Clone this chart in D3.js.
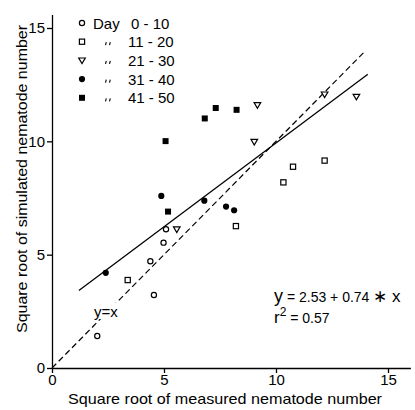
<!DOCTYPE html>
<html>
<head>
<meta charset="utf-8">
<script src="https://cdn.jsdelivr.net/npm/d3@7/dist/d3.min.js"></script>
<style>
  html, body { margin: 0; padding: 0; background: #fff; }
  svg { display: block; }
  text { font-family: "Liberation Sans", Arial, sans-serif; fill: #000; }
</style>
</head>
<body>
<svg id="chart" width="415" height="410"></svg>
<script>
// ---- data (square-root scale values) ----
const day0_10  = [[2.02,1.41],[4.55,3.22],[4.39,4.71],[4.98,5.53],[5.09,6.12]];
const day11_20 = [[3.38,3.88],[8.21,6.26],[10.33,8.19],[10.76,8.88],[12.17,9.15]];
const day21_30 = [[5.57,6.12],[9.03,9.98],[9.17,11.60],[12.17,12.07],[13.59,11.97]];
const day31_40 = [[2.40,4.20],[4.88,7.59],[6.80,7.38],[7.77,7.12],[8.13,6.96]];
const day41_50 = [[5.07,10.01],[5.18,6.90],[6.82,11.01],[7.31,11.47],[8.24,11.39]];
const legendLabels = ["0 - 10","11 - 20","21 - 30","31 - 40","41 - 50"];
const xTicks = [0,5,10,15];
const yTicks = [0,5,10,15];
const fitIntercept = 2.53, fitSlope = 0.74;
const fitRange = [1.2, 14.1];
const identityRange = [0, 14];

const svg = d3.select("#chart");
const x = d3.scaleLinear().domain([0,16]).range([52,410.4]);
const y = d3.scaleLinear().domain([0,15.6]).range([368,14.4]);

// axes
const xAxis = svg.append("g").attr("transform","translate(0,"+y(0)+")")
  .call(d3.axisBottom(x).tickValues(xTicks).tickSize(5).tickSizeOuter(0).tickPadding(1));
const yAxis = svg.append("g").attr("transform","translate("+x(0)+",0)")
  .call(d3.axisLeft(y).tickValues(yTicks).tickSize(5).tickSizeOuter(0).tickPadding(2));
[xAxis,yAxis].forEach(g=>{
  g.selectAll("path,line").attr("stroke","#000").attr("stroke-width",1.3);
  g.selectAll("text").style("font-size","15px").attr("fill","#000")
   .style("font-family","'Liberation Sans', Arial, sans-serif");
});

// axis titles
svg.append("text").attr("x",225).attr("y",404).attr("text-anchor","middle")
  .style("font-size","15px").attr("textLength",314).attr("lengthAdjust","spacingAndGlyphs")
  .text("Square root of measured nematode number");
svg.append("text").attr("transform","translate(27,179) rotate(-90)").attr("text-anchor","middle")
  .style("font-size","15.5px").attr("textLength",308).attr("lengthAdjust","spacingAndGlyphs")
  .text("Square root of simulated nematode number");

// lines
const line = d3.line().x(d=>x(d[0])).y(d=>y(d[1]));
svg.append("path").datum(identityRange.map(v=>[v,v])).attr("d",line)
  .attr("fill","none").attr("stroke","#000").attr("stroke-width",1.2).attr("stroke-dasharray","6,3.5");
svg.append("path").datum(fitRange.map(v=>[v,fitIntercept+fitSlope*v])).attr("d",line)
  .attr("fill","none").attr("stroke","#000").attr("stroke-width",1.3);

// symbols
function drawSym(g, type, cx, cy){
  if(type===0) g.append("circle").attr("cx",cx).attr("cy",cy).attr("r",2.6)
      .attr("fill","#fff").attr("stroke","#000").attr("stroke-width",1.2);
  else if(type===1) g.append("rect").attr("x",cx-2.6).attr("y",cy-2.6).attr("width",5.2).attr("height",5.2)
      .attr("fill","#fff").attr("stroke","#000").attr("stroke-width",1.2);
  else if(type===2) g.append("path").attr("d",`M${cx-3.3},${cy-2.4}L${cx+3.3},${cy-2.4}L${cx},${cy+3.2}Z`)
      .attr("fill","#fff").attr("stroke","#000").attr("stroke-width",1.2);
  else if(type===3) g.append("circle").attr("cx",cx).attr("cy",cy).attr("r",3.1).attr("fill","#000");
  else g.append("rect").attr("x",cx-3).attr("y",cy-3).attr("width",6).attr("height",6).attr("fill","#000");
}
const series = [day0_10, day11_20, day21_30, day31_40, day41_50];
const pts = svg.append("g");
series.forEach((s,i)=> s.forEach(d=>drawSym(pts,i,x(d[0]),y(d[1]))));

// legend
const leg = svg.append("g");
legendLabels.forEach((lab,i)=>{
  const cy = 23 + i*18.7;
  drawSym(leg,i,82,cy);
  if(i===0){
    leg.append("text").attr("x",93).attr("y",cy+5.5).style("font-size","15px").text("Day");
  } else {
    [105.5,109.5].forEach(dx=> leg.append("line")
      .attr("x1",dx+0.8).attr("y1",cy+0.5).attr("x2",dx).attr("y2",cy+3.5)
      .attr("stroke","#000").attr("stroke-width",1.1));
  }
  leg.append("text").attr("x", i===0?131:128).attr("y",cy+5.5).style("font-size","15px")
    .attr("xml:space","preserve").text(lab);
});

// annotations
svg.append("rect").attr("x",93).attr("y",303).attr("width",30).attr("height",16).attr("fill","#fff");
svg.append("text").attr("x",94).attr("y",317).style("font-size","15px").text("y=x");
const eq = svg.append("text").attr("x",274).attr("y",302).style("font-size","14px").attr("xml:space","preserve");
eq.append("tspan").style("font-size","18px").text("y");
eq.append("tspan").text(" = 2.53 + 0.74 ");
eq.append("tspan").style("font-size","17px").text("\u2217 x");
const r2 = svg.append("text").attr("x",274).attr("y",323).style("font-size","14px").attr("xml:space","preserve");
r2.append("tspan").style("font-size","17px").text("r");
r2.append("tspan").attr("dy",-7).style("font-size","12px").text("2");
r2.append("tspan").attr("dy",7).text(" = 0.57");
</script>
</body>
</html>
